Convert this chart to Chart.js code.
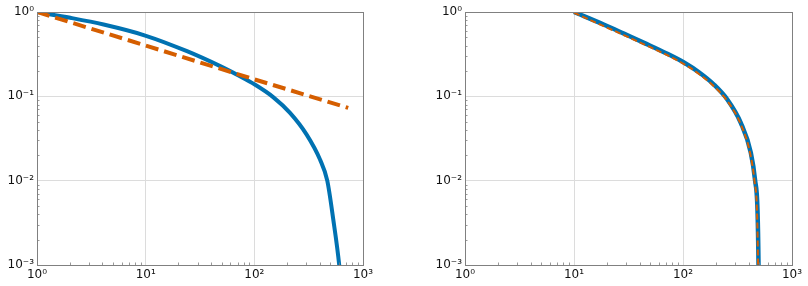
<!DOCTYPE html>
<html>
<head>
<meta charset="utf-8">
<script src="https://cdn.jsdelivr.net/npm/chart.js@4/dist/chart.umd.min.js"></script>
<style>
  html,body{margin:0;padding:0;background:#fff;}
  #wrap{position:relative;width:808px;height:286px;}
  .c{position:absolute;top:0;width:404px;height:286px;}
</style>
</head>
<body>
<div id="wrap">
  <div class="c" style="left:0"><canvas id="c1" width="404" height="286"></canvas></div>
  <div class="c" style="left:404px"><canvas id="c2" width="404" height="286"></canvas></div>
</div>
<script>
// ---- data ----
const xTicks = [1, 10, 100, 1000];
const yTicks = [0.001, 0.01, 0.1, 1];
const xTickLabels = ["10\u2070", "10\u00b9", "10\u00b2", "10\u00b3"];
const yTickLabels = ["10\u207b\u00b3", "10\u207b\u00b2", "10\u207b\u00b9", "10\u2070"];

const leftBlueX = [1, 2.03, 4.1, 9.9, 24, 48.5, 73.7, 101, 149, 213, 303, 402, 469, 532, 604, 625];
const leftBlueY = [1, 0.853, 0.71, 0.526, 0.343, 0.228, 0.173, 0.138, 0.098, 0.0637, 0.0352, 0.0178, 0.010, 0.0035, 0.001, 0.0006];
const leftOrangeX = [1, 10, 100, 731];
const leftOrangeY = [1, 0.40, 0.159, 0.073];

const rightBlueX = [10, 18.7, 29, 45, 70, 102, 140, 192, 255, 339, 419, 459, 482, 493, 496];
const rightBlueY = [1, 0.71, 0.55, 0.425, 0.325, 0.252, 0.193, 0.138, 0.0917, 0.0485, 0.0214, 0.010, 0.0046, 0.001, 0.0004];
const rightOrangeX = [10, 18.7, 29, 45, 70, 102, 140, 192, 255, 339, 415, 454, 477, 488, 491];
const rightOrangeY = [0.98, 0.68, 0.528, 0.408, 0.312, 0.241, 0.184, 0.132, 0.088, 0.0465, 0.0205, 0.0096, 0.0044, 0.001, 0.0004];

const BLUE = '#0072B2', ORANGE = '#D55E00';

function pts(xs, ys){ return xs.map((x,i)=>({x:x, y:ys[i]})); }

const boxPlugin = {
  id: 'box',
  afterDraw(chart){
    const {ctx, chartArea:a, scales} = chart;
    ctx.save();
    ctx.strokeStyle = '#7f7f7f';
    ctx.lineWidth = 0.8;
    const xs = scales.x, ys = scales.y;
    ctx.beginPath();
    for (let d = 1; d < 1000; d *= 10) {
      for (let m = 2; m <= 9; m++) {
        const px = Math.round(xs.getPixelForValue(d*m)) + 0.5;
        ctx.moveTo(px, a.bottom); ctx.lineTo(px, a.bottom - 2.5);
      }
    }
    for (let d = 0.001; d < 0.9; d *= 10) {
      for (let m = 2; m <= 9; m++) {
        const py = Math.round(ys.getPixelForValue(d*m)) + 0.5;
        ctx.moveTo(a.left, py); ctx.lineTo(a.left + 2.5, py);
      }
    }
    ctx.stroke();
    ctx.strokeStyle = '#808080';
    ctx.lineWidth = 1;
    ctx.strokeRect(Math.round(a.left)+0.5, Math.round(a.top)+0.5, Math.round(a.right-a.left), Math.round(a.bottom-a.top));
    ctx.restore();
  }
};

function makeChart(id, datasets, yWidth, padRight){
  return new Chart(document.getElementById(id), {
    type: 'line',
    data: { datasets: datasets },
    options: {
      responsive: false,
      animation: false,
      events: [],
      layout: { padding: { top: 12, right: padRight, bottom: 0, left: 0 } },
      plugins: { legend: { display: false }, tooltip: { enabled: false } },
      elements: { point: { radius: 0 } },
      scales: {
        x: {
          type: 'logarithmic', min: 1, max: 1000,
          afterBuildTicks(s){ s.ticks = xTicks.map(v=>({value:v})); },
          afterFit(s){ s.height = 21; },
          grid: { color: '#dcdcdc', lineWidth: 1, drawTicks: false },
          border: { display: false },
          ticks: {
            autoSkip: false, maxRotation: 0, padding: 3,
            color: '#111', font: { family: 'DejaVu Sans', size: 12 },
            callback(v){ const i = xTicks.indexOf(v); return i >= 0 ? xTickLabels[i] : ''; }
          }
        },
        y: {
          type: 'logarithmic', min: 0.001, max: 1,
          afterBuildTicks(s){ s.ticks = yTicks.map(v=>({value:v})); },
          afterFit(s){ s.width = yWidth; },
          grid: { color: '#dcdcdc', lineWidth: 1, drawTicks: false },
          border: { display: false },
          ticks: {
            autoSkip: false, padding: 3,
            color: '#111', font: { family: 'DejaVu Sans', size: 12 },
            callback(v){ const i = yTicks.findIndex(t=>Math.abs(t-v)/t < 1e-6); return i >= 0 ? yTickLabels[i] : ''; }
          }
        }
      }
    },
    plugins: [boxPlugin]
  });
}

makeChart('c1', [
  { data: pts(leftBlueX, leftBlueY), borderColor: BLUE, borderWidth: 4, cubicInterpolationMode: 'monotone', fill: false, order: 2 },
  { data: pts(leftOrangeX, leftOrangeY), borderColor: ORANGE, borderWidth: 4, borderDash: [13, 6], fill: false, order: 1 }
], 37, 41);

makeChart('c2', [
  { data: pts(rightBlueX, rightBlueY), borderColor: BLUE, borderWidth: 4.5, cubicInterpolationMode: 'monotone', fill: false, order: 2 },
  { data: pts(rightOrangeX, rightOrangeY), borderColor: ORANGE, borderWidth: 2, borderDash: [6, 3], cubicInterpolationMode: 'monotone', fill: false, order: 1 }
], 61, 16);
</script>
</body>
</html>
